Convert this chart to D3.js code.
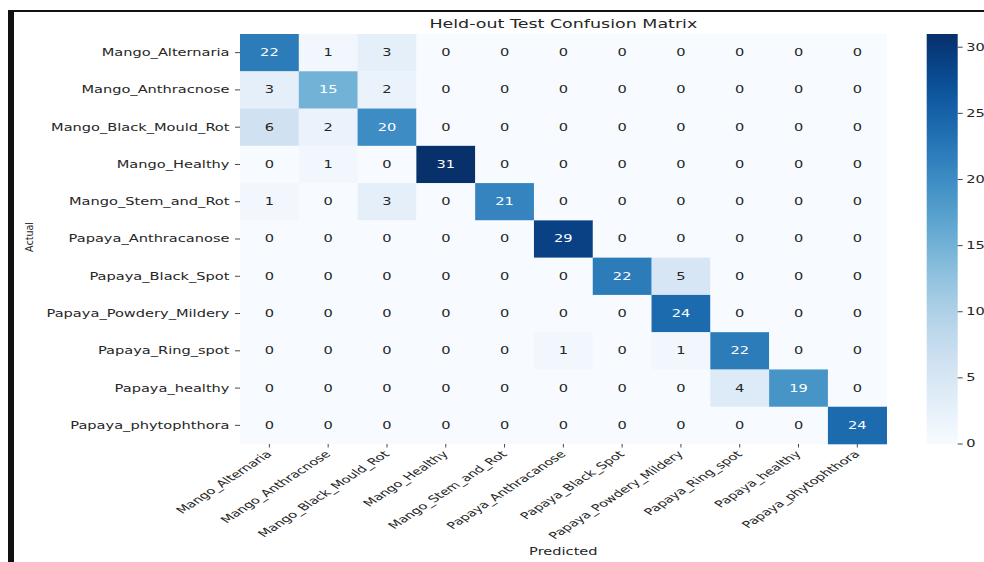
<!DOCTYPE html>
<html>
<head>
<meta charset="utf-8">
<script src="https://cdn.jsdelivr.net/npm/d3@7"></script>
<style>
  html, body { margin: 0; padding: 0; background: #ffffff; }
  svg { display: block; }
  text { font-family: "DejaVu Sans", sans-serif; }
</style>
</head>
<body>
<svg id="chart" width="984" height="562"></svg>
<script>
// ---- data ----
const categories = [
  "Mango_Alternaria", "Mango_Anthracnose", "Mango_Black_Mould_Rot", "Mango_Healthy",
  "Mango_Stem_and_Rot", "Papaya_Anthracanose", "Papaya_Black_Spot", "Papaya_Powdery_Mildery",
  "Papaya_Ring_spot", "Papaya_healthy", "Papaya_phytophthora"
];
const rowMangoAlternaria    = [22, 1, 3, 0, 0, 0, 0, 0, 0, 0, 0];
const rowMangoAnthracnose   = [3, 15, 2, 0, 0, 0, 0, 0, 0, 0, 0];
const rowMangoBlackMould    = [6, 2, 20, 0, 0, 0, 0, 0, 0, 0, 0];
const rowMangoHealthy       = [0, 1, 0, 31, 0, 0, 0, 0, 0, 0, 0];
const rowMangoStemRot       = [1, 0, 3, 0, 21, 0, 0, 0, 0, 0, 0];
const rowPapayaAnthracanose = [0, 0, 0, 0, 0, 29, 0, 0, 0, 0, 0];
const rowPapayaBlackSpot    = [0, 0, 0, 0, 0, 0, 22, 5, 0, 0, 0];
const rowPapayaPowdery      = [0, 0, 0, 0, 0, 0, 0, 24, 0, 0, 0];
const rowPapayaRingSpot     = [0, 0, 0, 0, 0, 1, 0, 1, 22, 0, 0];
const rowPapayaHealthy      = [0, 0, 0, 0, 0, 0, 0, 0, 4, 19, 0];
const rowPapayaPhyto        = [0, 0, 0, 0, 0, 0, 0, 0, 0, 0, 24];
const colorbarTicks = [0, 5, 10, 15, 20, 25, 30];
const titleText = "Held-out Test Confusion Matrix";
const xLabelText = "Predicted";
const yLabelText = "Actual";

const counts = [rowMangoAlternaria, rowMangoAnthracnose, rowMangoBlackMould, rowMangoHealthy,
  rowMangoStemRot, rowPapayaAnthracanose, rowPapayaBlackSpot, rowPapayaPowdery,
  rowPapayaRingSpot, rowPapayaHealthy, rowPapayaPhyto];

// ---- layout ----
const SX = 1.52;           // horizontal stretch of the reference picture
const FS = 9.6;            // tick / annotation font size
const hm = { left: 240, right: 886.7, top: 34, bottom: 444 };
const cb = { left: 926.7, right: 957.7, top: 34, bottom: 444 };

const svg = d3.select("#chart");

// frame
svg.append("rect").attr("x", 8).attr("y", 10).attr("width", 976).attr("height", 2).attr("fill", "#111");
svg.append("rect").attr("x", 8).attr("y", 10).attr("width", 6).attr("height", 552).attr("fill", "#111");

const vmax = d3.max(counts.flat());
const color = d3.scaleSequential(d3.interpolateBlues).domain([0, vmax]);
const x = d3.scaleBand().domain(d3.range(categories.length)).range([hm.left, hm.right]);
const y = d3.scaleBand().domain(d3.range(categories.length)).range([hm.top, hm.bottom]);

function lum(c) {
  const rgb = d3.rgb(c);
  const f = v => { v /= 255; return v <= 0.03928 ? v / 12.92 : Math.pow((v + 0.055) / 1.055, 2.4); };
  return 0.2126 * f(rgb.r) + 0.7152 * f(rgb.g) + 0.0722 * f(rgb.b);
}

const cells = [];
counts.forEach((row, i) => row.forEach((v, j) => cells.push({ i, j, v })));

svg.append("g").selectAll("rect").data(cells).join("rect")
  .attr("x", d => x(d.j)).attr("y", d => y(d.i))
  .attr("width", x.bandwidth() + 0.3).attr("height", y.bandwidth() + 0.3)
  .attr("fill", d => color(d.v));

svg.append("g").selectAll("text").data(cells).join("text")
  .attr("transform", d => `translate(${x(d.j) + x.bandwidth() / 2},${y(d.i) + y.bandwidth() / 2}) scale(${SX},1)`)
  .attr("text-anchor", "middle").attr("dy", "0.36em")
  .attr("font-size", FS)
  .attr("fill", d => lum(color(d.v)) > 0.408 ? "#262626" : "#ffffff")
  .text(d => d.v);

// y axis ticks & labels
const yAx = svg.append("g");
categories.forEach((c, i) => {
  const cy = y(i) + y.bandwidth() / 2;
  yAx.append("line").attr("x1", hm.left - 5).attr("x2", hm.left).attr("y1", cy).attr("y2", cy)
    .attr("stroke", "#333").attr("stroke-width", 0.9);
  yAx.append("text")
    .attr("transform", `translate(${hm.left - 10.5},${cy}) scale(${SX},1)`)
    .attr("text-anchor", "end").attr("dy", "0.36em")
    .attr("font-size", FS).attr("fill", "#262626").text(c);
});

// x axis ticks & labels
const xAx = svg.append("g");
categories.forEach((c, j) => {
  const cx = x(j) + x.bandwidth() / 2;
  xAx.append("line").attr("x1", cx).attr("x2", cx).attr("y1", hm.bottom).attr("y2", hm.bottom + 3.5)
    .attr("stroke", "#333").attr("stroke-width", 0.9);
  xAx.append("text")
    .attr("transform", `translate(${cx - 4},${hm.bottom + 6}) scale(${SX},1) rotate(-45)`)
    .attr("text-anchor", "end").attr("dy", "0.7em")
    .attr("font-size", FS).attr("fill", "#262626").text(c);
});

// axis titles
svg.append("text")
  .attr("transform", `translate(${(hm.left + hm.right) / 2},555) scale(${SX},1)`)
  .attr("text-anchor", "middle").attr("font-size", FS).attr("fill", "#262626").text(xLabelText);
svg.append("text")
  .attr("transform", `translate(33,${(hm.top + hm.bottom) / 2 - 2}) rotate(-90) scale(0.87,1)`)
  .attr("text-anchor", "middle").attr("font-size", 11).attr("fill", "#262626").text(yLabelText);

// title
svg.append("text")
  .attr("transform", `translate(${(hm.left + hm.right) / 2},28) scale(${SX},1)`)
  .attr("text-anchor", "middle").attr("font-size", 11.5).attr("fill", "#262626").text(titleText);

// colorbar
const defs = svg.append("defs");
const grad = defs.append("linearGradient").attr("id", "cbgrad")
  .attr("x1", 0).attr("y1", 1).attr("x2", 0).attr("y2", 0);
d3.range(0, 1.0001, 0.05).forEach(t => {
  grad.append("stop").attr("offset", t).attr("stop-color", color(t * vmax));
});
svg.append("rect").attr("x", cb.left).attr("y", cb.top)
  .attr("width", cb.right - cb.left).attr("height", cb.bottom - cb.top)
  .attr("fill", "url(#cbgrad)");
const cbScale = d3.scaleLinear().domain([0, vmax]).range([cb.bottom, cb.top]);
const cbAx = svg.append("g");
colorbarTicks.forEach(t => {
  const ty = cbScale(t);
  cbAx.append("line").attr("x1", cb.right).attr("x2", cb.right + 5).attr("y1", ty).attr("y2", ty)
    .attr("stroke", "#333").attr("stroke-width", 0.9);
  cbAx.append("text")
    .attr("transform", `translate(${cb.right + 8.5},${ty}) scale(${SX},1)`)
    .attr("dy", "0.36em").attr("font-size", FS).attr("fill", "#262626").text(t);
});
</script>
</body>
</html>
